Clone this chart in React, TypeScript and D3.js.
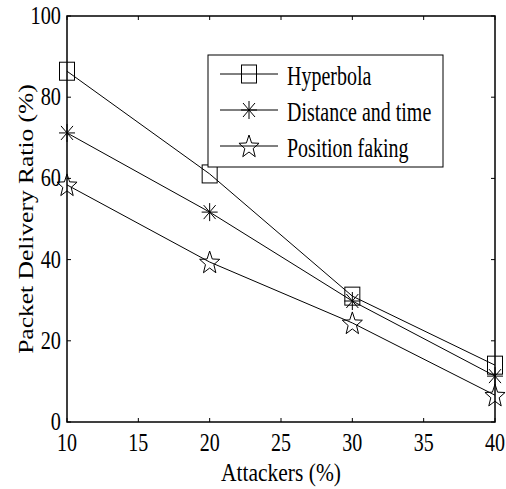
import React from "react";
import * as d3 from "d3";

const attackers = [10, 20, 30, 40];
const hyperbola = [86.4, 61.1, 31, 14];
const distanceTime = [71.2, 51.7, 29.8, 11.3];
const positionFaking = [58.4, 39.4, 24.4, 6.6];
const xTicks = [10, 15, 20, 25, 30, 35, 40];
const yTicks = [0, 20, 40, 60, 80, 100];
const seriesNames = ["Hyperbola", "Distance and time", "Position faking"];

const W = 506;
const H = 489;
const margin = { top: 16, right: 11, bottom: 67, left: 67 };
const font = "'Liberation Serif', 'Times New Roman', serif";

const x = d3.scaleLinear().domain([10, 40]).range([margin.left, W - margin.right]);
const y = d3.scaleLinear().domain([0, 100]).range([H - margin.bottom, margin.top]);

const line = d3
  .line<number>()
  .x((_, i) => x(attackers[i]))
  .y(d => y(d));

const starPath = (() => {
  const pts: string[] = [];
  for (let i = 0; i < 10; i++) {
    const r = i % 2 === 0 ? 12 : 5;
    const a = -Math.PI / 2 + (i * Math.PI) / 5;
    pts.push(`${(Math.cos(a) * r * 0.88).toFixed(2)},${(Math.sin(a) * r).toFixed(2)}`);
  }
  return "M" + pts.join("L") + "Z";
})();

const Marker = ({ kind, cx, cy }: { kind: number; cx: number; cy: number }) => {
  const st = { fill: "none", stroke: "#000", strokeWidth: 1 };
  if (kind === 0) return <rect x={cx - 7.5} y={cy - 9} width={15} height={18} {...st} />;
  if (kind === 1)
    return (
      <path
        d={`M${cx - 8},${cy}H${cx + 8}M${cx},${cy - 9}V${cy + 9}M${cx - 6},${cy - 7}L${cx + 6},${cy + 7}M${cx - 6},${cy + 7}L${cx + 6},${cy - 7}`}
        {...st}
      />
    );
  return <path d={starPath} transform={`translate(${cx},${cy + 1})`} {...st} />;
};

// the source figure is squashed horizontally, so text gets an x scale
const Txt = ({ x0, y0, anchor, size, sx, rot, children }: any) => (
  <g transform={`translate(${x0},${y0}) scale(${sx},1)${rot ? " rotate(-90)" : ""}`}>
    <text textAnchor={anchor} fontSize={size} fontFamily={font} fill="#000">
      {children}
    </text>
  </g>
);

export default function App() {
  const series = [hyperbola, distanceTime, positionFaking];
  const x0 = margin.left;
  const x1 = W - margin.right;
  const y0 = H - margin.bottom;
  const y1 = margin.top;
  const legend = { x: 208, y: 55, w: 235, h: 112 };
  const rows = [74, 110, 146];

  return (
    <svg width={W} height={H} style={{ position: "absolute", left: 0, top: 0, background: "#fff" }}>
      {/* series */}
      {series.map((s, k) => (
        <g key={k}>
          <path d={line(s) || ""} fill="none" stroke="#000" strokeWidth={1} />
          {s.map((v, i) => (
            <Marker key={i} kind={k} cx={x(attackers[i])} cy={y(v)} />
          ))}
        </g>
      ))}

      {/* ticks, inward on all four sides */}
      {xTicks.map(t => (
        <g key={"x" + t}>
          <line x1={x(t)} x2={x(t)} y1={y0} y2={y0 - 4} stroke="#000" />
          <line x1={x(t)} x2={x(t)} y1={y1} y2={y1 + 4} stroke="#000" />
          <Txt x0={x(t)} y0={451} anchor="middle" size={25} sx={0.8}>{t}</Txt>
        </g>
      ))}
      {yTicks.map(t => (
        <g key={"y" + t}>
          <line x1={x0} x2={x0 + 4} y1={y(t)} y2={y(t)} stroke="#000" />
          <line x1={x1} x2={x1 - 4} y1={y(t)} y2={y(t)} stroke="#000" />
          <Txt x0={61} y0={y(t) + 8} anchor="end" size={26} sx={0.78}>{t}</Txt>
        </g>
      ))}

      {/* frame */}
      <rect x={x0} y={y1} width={x1 - x0} height={y0 - y1} fill="none" stroke="#000" strokeWidth={1.5} />

      {/* axis titles */}
      <Txt x0={(x0 + x1) / 2} y0={481} anchor="middle" size={25} sx={0.86}>Attackers (%)</Txt>
      <Txt x0={33} y0={(y0 + y1) / 2} anchor="middle" size={25.5} sx={0.8} rot>Packet Delivery Ratio (%)</Txt>

      {/* legend */}
      <rect x={legend.x} y={legend.y} width={legend.w} height={legend.h} fill="#fff" stroke="#000" strokeWidth={1} />
      {seriesNames.map((n, k) => (
        <g key={n}>
          <line x1={220} x2={278} y1={rows[k]} y2={rows[k]} stroke="#000" strokeWidth={1} />
          <Marker kind={k} cx={249} cy={rows[k]} />
          <Txt x0={287} y0={rows[k] + 11} anchor="start" size={27} sx={0.74}>{n}</Txt>
        </g>
      ))}
    </svg>
  );
}
